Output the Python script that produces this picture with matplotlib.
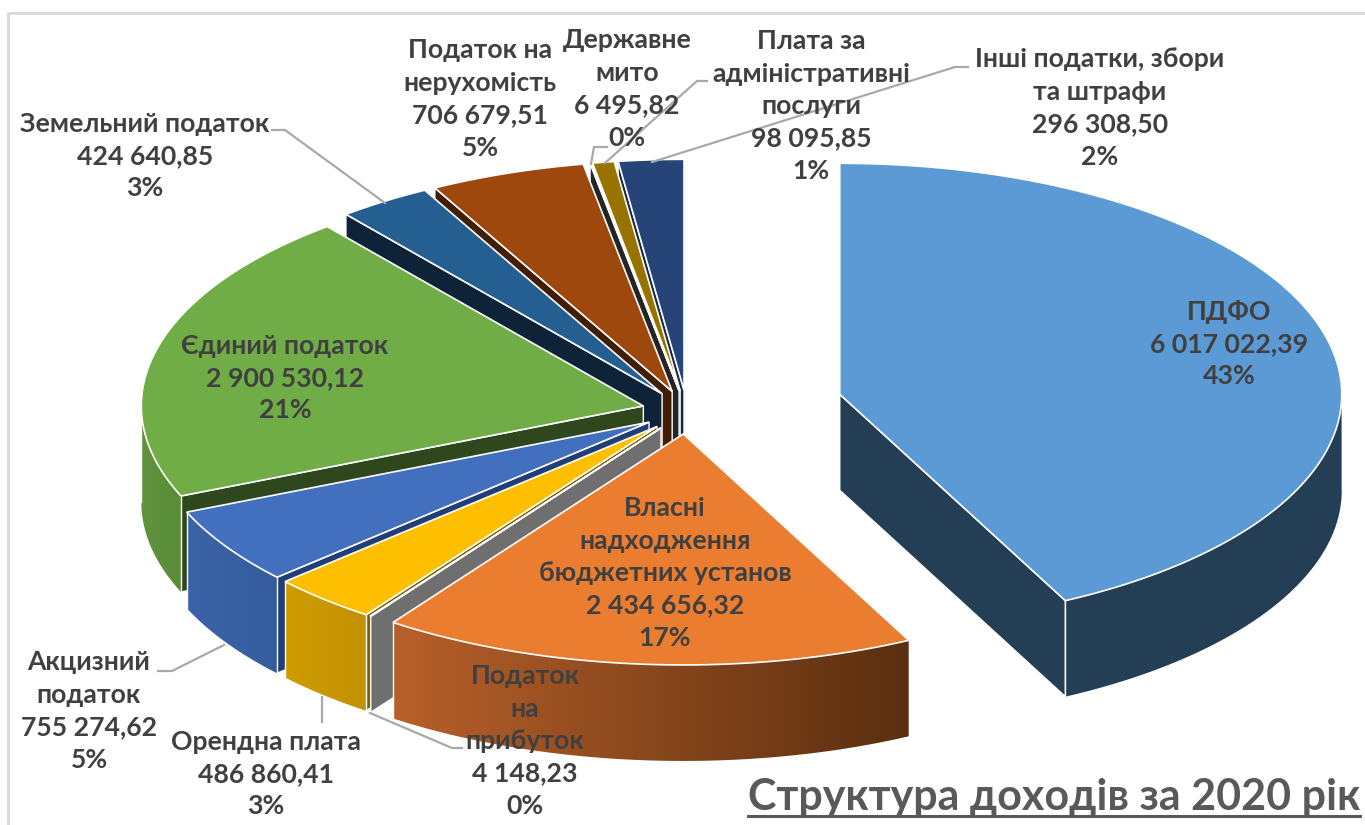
#!/usr/bin/python3
# coding: utf-8

'''
Structure of budget income in 2020, drawn as an exploded pseudo-3D pie
'''

import matplotlib
matplotlib.use('Agg')
import matplotlib.colors as mcolors
import matplotlib.pyplot as plt
from matplotlib.patches import Polygon
import numpy as np

## Data
NAMES = ['ПДФО', 'Власні\nнадходження\nбюджетних установ', 'Податок\nна\nприбуток',
         'Орендна плата', 'Акцизний\nподаток', 'Єдиний податок', 'Земельний податок',
         'Податок на\nнерухомість', 'Державне\nмито', 'Плата за\nадміністративні\nпослуги',
         'Інші податки, збори\nта штрафи']
VALUES = [6017022.39, 2434656.32, 4148.23, 486860.41, 755274.62, 2900530.12,
          424640.85, 706679.51, 6495.82, 98095.85, 296308.50]
TITLE = 'Структура доходів за 2020 рік'

## Styles, one entry for each slice
TOP_COLORS = ['#5b9ad5', '#eb7d31', '#a5a5a5', '#fdbf00', '#4270be', '#70ad47',
              '#255e91', '#9e480e', '#636363', '#997300', '#264478']
WALL_COLORS = ['#243f55', '#5a2f10', '#6f6f6f', '#7f6000', '#203f78', '#2e471c',
               '#0e2338', '#431e06', '#252525', '#5b4500', '#16294a']
RIM_LEFT = ['#243f55', '#b8602a', '#6f6f6f', '#cf9c00', '#3c63a8', '#5f933c',
            '#1f4f7a', '#843c0c', '#555555', '#7f6000', '#1e3a66']
RIM_RIGHT = ['#243f55', '#5a2f10', '#6f6f6f', '#c29100', '#355c9c', '#5a8c38',
             '#1f4f7a', '#843c0c', '#555555', '#7f6000', '#1e3a66']
EXPLODE = [157, 50, 45, 45, 45, 45, 45, 45, 45, 45, 45]
LABEL_POS = [(1229, 344), (665, 573), (525, 741), (266, 774), (89, 711), (285, 378),
             (145, 156), (480, 99), (627, 89), (811, 106), (1100, 108)]

CENTER_X, CENTER_Y = 687, 411
RADIUS_X, RADIUS_Y = 502, 231
DEPTH = 96
TEXT_COLOR = '#404040'
LEADER_COLOR = '#a9a9a9'
FONT = ['Lato', 'Liberation Sans', 'DejaVu Sans']
FONTSIZE = 19.2

LEADERS = [[(272, 130), (285, 130), (385, 203)],
           [(607, 147), (594, 147), (591, 164)],
           [(707, 81), (697, 81), (605, 163)],
           [(968, 67), (955, 67), (652, 162)],
           [(158, 671), (172, 671), (224, 645)],
           [(322, 697), (322, 722)],
           [(370, 713), (452, 748), (462, 748)]]


def rim(apex, deg):
    a = np.radians(deg)
    return apex[0] + RADIUS_X * np.sin(a), apex[1] - RADIUS_Y * np.cos(a)


def draw_radial_wall(ax, apex, deg, color):
    rx, ry = rim(apex, deg)
    xs = [apex[0], rx, rx, apex[0]]
    ys = [apex[1], ry, ry + DEPTH, apex[1] + DEPTH]
    ax.fill(xs, ys, facecolor=color, edgecolor='white', linewidth=1.0, joinstyle='miter')


def draw_rim_wall(ax, apex, start, end, left, right):
    lo, hi = max(start, 90), min(end, 270)
    if hi <= lo:
        return
    degs = np.linspace(lo, hi, max(int(hi - lo) * 2, 2))
    xs, ys = rim(apex, degs)
    xmin, xmax = xs.min(), xs.max()
    if xmax - xmin < 1:
        return
    ## horizontal gradient cut to the wall outline
    ramp = np.linspace(mcolors.to_rgb(left), mcolors.to_rgb(right), 256)[np.newaxis, :, :]
    outline = Polygon(np.c_[np.r_[xs, xs[::-1]], np.r_[ys, ys[::-1] + DEPTH]], closed=True,
                      facecolor='none', edgecolor='none', transform=ax.transData)
    ax.add_patch(outline)
    image = ax.imshow(ramp, extent=(xmin, xmax, ys.max() + DEPTH, ys.min()), aspect='auto',
                      interpolation='bilinear', zorder=2)
    image.set_clip_path(outline)
    ## thin white seam on the corners
    ax.plot([xs[0], xs[0]], [ys[0], ys[0] + DEPTH], color='white', lw=1.0, zorder=2)
    ax.plot([xs[-1], xs[-1]], [ys[-1], ys[-1] + DEPTH], color='white', lw=1.0, zorder=2)


def draw_top(ax, apex, start, end, color):
    degs = np.linspace(start, end, max(int(end - start) * 2, 2))
    xs, ys = rim(apex, degs)
    ax.fill(np.r_[apex[0], xs], np.r_[apex[1], ys], facecolor=color, edgecolor='white',
            linewidth=1.2, joinstyle='miter', zorder=2)


def format_value(value):
    return '{0:,.2f}'.format(value).replace(',', ' ').replace('.', ',')


def main():
    values = np.array(VALUES)
    shares = values / values.sum()
    edges = np.r_[0, np.cumsum(shares)] * 360

    fig = plt.figure(figsize=(13.65, 8.25), dpi=100)
    ax = fig.add_axes([0, 0, 1, 1])

    ## frame of the pasted picture, only top and left are in view
    ax.plot([8, 8, 1365], [825, 13, 13], color='#d9d9d9', lw=2)

    ## back to front, the last slice in the list is the farthest one
    for i in range(len(values) - 1, -1, -1):
        start, end = edges[i], edges[i + 1]
        mid = np.radians((start + end) / 2)
        apex = (CENTER_X + EXPLODE[i] * np.sin(mid),
                CENTER_Y - EXPLODE[i] * RADIUS_Y / RADIUS_X * np.cos(mid))
        if np.sin(np.radians(start)) < 0:
            draw_radial_wall(ax, apex, start, WALL_COLORS[i])
        if np.sin(np.radians(end)) > 1e-6:
            draw_radial_wall(ax, apex, end, WALL_COLORS[i])
        draw_rim_wall(ax, apex, start, end, RIM_LEFT[i], RIM_RIGHT[i])
        draw_top(ax, apex, start, end, TOP_COLORS[i])

    ## walls share zorder with tops, so keep the order they were added in
    for n, artist in enumerate(ax.get_children()):
        if artist in ax.patches or artist in ax.images or artist in ax.lines:
            artist.set_zorder(2 + n * 0.001)

    for leader in LEADERS:
        xs, ys = zip(*leader)
        ax.plot(xs, ys, color=LEADER_COLOR, lw=1.6, solid_joinstyle='miter', zorder=5)

    for i, name in enumerate(NAMES):
        label = '{0}\n{1}\n{2:.0f}%'.format(name, format_value(VALUES[i]), shares[i] * 100)
        ax.text(LABEL_POS[i][0], LABEL_POS[i][1], label, ha='center', va='center', ma='center',
                family=FONT, fontsize=FONTSIZE, fontweight='bold', color=TEXT_COLOR,
                linespacing=1.42, zorder=6)

    ax.text(1054, 797, TITLE, ha='center', va='center', family=FONT, fontsize=31,
            fontweight='bold', color='#595959', zorder=6)
    ax.plot([748, 1360], [816, 816], color='#595959', lw=2.2, zorder=6)

    ax.set_xlim(0, 1365)
    ax.set_ylim(825, 0)
    ax.axis('off')
    fig.savefig('out.png', dpi=100)


if __name__ == '__main__':
    main()
